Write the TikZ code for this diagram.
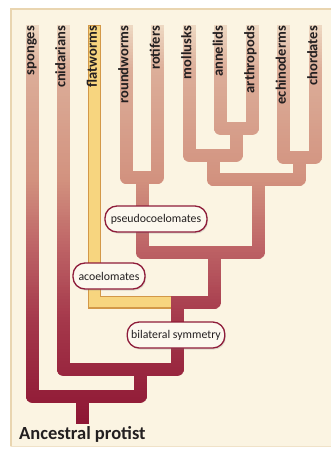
\documentclass[tikz,border=0pt]{standalone}
\usepackage{fontspec}
\newfontfamily\labfont{Carlito}
\usetikzlibrary{shadows}
\definecolor{panelbg}{HTML}{FBF4E2}
\definecolor{paneledge}{HTML}{E9D5B0}
\definecolor{bubbleedge}{HTML}{8E1C3A}
\definecolor{bubblefill}{HTML}{FCF8EE}
\definecolor{worm}{HTML}{F7D57F}
\definecolor{wormedge}{HTML}{D39848}
\definecolor{ink}{HTML}{231F20}
\definecolor{tzero}{HTML}{8C1432}
\definecolor{tone}{HTML}{A5384B}
\definecolor{ttwo}{HTML}{BD6265}
\definecolor{tthree}{HTML}{D2927F}
\definecolor{tfour}{HTML}{DCAE99}
\definecolor{tfive}{HTML}{EFDCC6}

\newcommand\drawtreepaths[1]{%
  \draw[line width=13pt, line join=round, draw=#1]
    (rw) |- (j1) -| (ro)
    (an) |- (j2) -| (ar)
    (mo) |- (j3) -| (j2)
    (ec) |- (j4) -| (ch)
    (j3) |- (j5) -| (j4)
    (j1) |- (j6) -| (j5)
    (wj) -| (j6)
    (cn) |- (j8) -| (j7)
    (sp) |- (j9) -| (j8)
    (j9) -- (root);}

\tikzset{
  toplabel/.style={rotate=90, anchor=east, inner sep=0pt, text=ink,
    font=\labfont\bfseries\fontsize{14.5}{14.5}\selectfont, text height=0.68em, text depth=0.2em},
  bubble/.style={draw=bubbleedge, fill=bubblefill, line width=1.3pt, rounded corners=12pt,
    minimum height=26pt, inner xsep=4pt, text=ink,
    font=\labfont\fontsize{11.8}{12}\selectfont,
    drop shadow={shadow xshift=1pt, shadow yshift=-1.5pt, opacity=0.25}},
  wormline/.style={line width=10.5pt, draw=worm},
  wormrim/.style={line width=13pt, draw=wormedge}
}

\begin{document}
\begin{tikzpicture}[x=1pt,y=-1pt]
  \useasboundingbox (0,0) rectangle (331,450);
  \fill[white] (0,0) rectangle (331,450);
  \fill[panelbg] (10,8) rectangle (331,447);
  \draw[paneledge, line width=1.5pt] (10.75,446.25) -- (10.75,8.75) -- (331,8.75);
  \draw[paneledge!70, line width=1pt] (10.75,446.5) -- (331,446.5);

  % tree junctions
  \coordinate (sp) at (32,25);
  \coordinate (cn) at (63,25);
  \coordinate (rw) at (126,25);
  \coordinate (ro) at (157.5,25);
  \coordinate (mo) at (189,25);
  \coordinate (an) at (220.5,25);
  \coordinate (ar) at (252,25);
  \coordinate (ec) at (283.5,25);
  \coordinate (ch) at (315,25);
  \coordinate (j1) at (142,177);
  \coordinate (j2) at (236,128);
  \coordinate (j3) at (213,155);
  \coordinate (j4) at (299,157);
  \coordinate (j5) at (258,179);
  \coordinate (j6) at (214,252);
  \coordinate (wj) at (166,302);
  \coordinate (j7) at (177,302);
  \coordinate (j8) at (140,369);
  \coordinate (j9) at (82,396);
  \coordinate (root) at (82,424);

  % tree, shaded top to bottom in thin strips
  \foreach \ya/\yb/\ca/\cb in {22/70/tfive/tfour, 70/180/tfour/tthree, 180/250/tthree/ttwo, 250/320/ttwo/tone, 320/430/tone/tzero}{
    \pgfmathtruncatemacro\nst{ceil((\yb-\ya)/3)}
    \foreach \k in {1,...,\nst}{
      \pgfmathsetmacro\ylo{\ya+(\k-1)*(\yb-\ya)/\nst}
      \pgfmathsetmacro\yhi{\ya+\k*(\yb-\ya)/\nst+0.7}
      \pgfmathsetmacro\pct{100*(\k-0.5)/\nst}
      \begin{scope}
        \clip (-5,\ylo) rectangle (340,\yhi);
        \drawtreepaths{\cb!\pct!\ca}
      \end{scope}
    }
  }

  % flatworm lineage
  \coordinate (fl) at (94.5,25);
  \coordinate (fle) at (171,302);
  \draw[wormrim] (fl) |- (fle);
  \draw[wormline] (94.5,25.5) |- (170.5,302);

  % bubbles
  \node[bubble, minimum width=102pt] (pseudo) at (156,219) {pseudocoelomates};
  \node[bubble, minimum width=72pt] (acoel) at (109,276) {acoelomates};
  \node[bubble, minimum width=97pt] (bilat) at (176,335) {bilateral symmetry};

  % taxon labels
  \node[toplabel] (lsp) at (32,26) {sponges};
  \node[toplabel] (lcn) at (63,26) {cnidarians};
  \node[toplabel] (lfl) at (94.5,26) {flatworms};
  \node[toplabel] (lrw) at (126,26) {roundworms};
  \node[toplabel] (lro) at (157.5,26) {rotifers};
  \node[toplabel] (lmo) at (189,26) {mollusks};
  \node[toplabel] (lan) at (220.5,26) {annelids};
  \node[toplabel] (lar) at (252,26) {arthropods};
  \node[toplabel] (lec) at (283.5,26) {echinoderms};
  \node[toplabel] (lch) at (315,26) {chordates};

  \node[anchor=base west, inner sep=0pt, text=ink, font=\labfont\bfseries\fontsize{18.5}{18.5}\selectfont] (anc) at (19,439) {Ancestral protist};
\end{tikzpicture}
\end{document}
